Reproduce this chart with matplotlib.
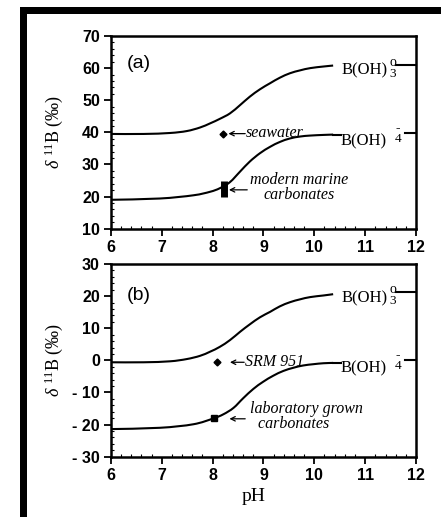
import matplotlib
matplotlib.use('Agg')
import matplotlib.pyplot as plt
from matplotlib.patches import Rectangle, PathPatch
from matplotlib.path import Path
from matplotlib.ticker import MultipleLocator

# ---------------- data ----------------
ph_upper = [6.0, 6.64, 7.16, 7.49, 7.75, 7.95, 8.14, 8.34, 8.54, 8.73, 8.93,
            9.13, 9.32, 9.52, 9.72, 9.92, 10.18, 10.37]
a_boh3 = [39.5, 39.5, 39.8, 40.4, 41.5, 42.8, 44.2, 45.9, 48.5, 51.1, 53.4,
          55.3, 57.0, 58.4, 59.3, 60.0, 60.5, 60.8]
ph_lower_a = [6.0, 6.96, 7.62, 7.95, 8.14, 8.34, 8.54, 8.73, 8.93, 9.13,
              9.32, 9.52, 9.72, 9.92, 10.18, 10.37]
a_boh4 = [19.0, 19.4, 20.4, 21.5, 22.6, 24.5, 27.8, 30.9, 33.5, 35.5,
          37.0, 38.1, 38.7, 39.0, 39.2, 39.3]
b_boh3 = [-0.6, -0.6, -0.3, 0.4, 1.4, 2.7, 4.2, 6.3, 8.9, 11.2, 13.4,
          15.1, 16.8, 18.1, 19.0, 19.7, 20.2, 20.6]
ph_lower_b = [6.0, 6.96, 7.62, 8.01, 8.21, 8.41, 8.60, 8.80, 8.99, 9.19,
              9.39, 9.59, 9.78, 9.98, 10.18, 10.37]
b_boh4 = [-21.4, -21.0, -19.9, -18.1, -16.8, -14.8, -11.8, -8.9, -6.7, -4.8,
          -3.3, -2.3, -1.6, -1.2, -0.9, -0.8]

seawater = (8.21, 39.6)
carbonate_bar = (8.22, 19.9, 24.9)      # pH, low, high
srm951 = (8.09, -0.4)
lab_carbonate = (8.02, -18.1)

x_ticks = [6, 7, 8, 9, 10, 11, 12]
x_ticklabels = ['6', '7', '8', '9', '10', '11', '12']
ya_ticks = [10, 20, 30, 40, 50, 60, 70]
ya_ticklabels = ['10', '20', '30', '40', '50', '60', '70']
yb_ticks = [-30, -20, -10, 0, 10, 20, 30]
yb_ticklabels = ['- 30', '- 20', '- 10', '0', '10', '20', '30']

# ---------------- figure ----------------
W, H = 441, 517
fig = plt.figure(figsize=(W / 100, H / 100), dpi=100)
fig.patch.set_facecolor('white')

# scanned black frame (left and top)
fig.add_artist(Rectangle((20 / W, 0), 6.5 / W, 1 - 7 / H, transform=fig.transFigure,
                         facecolor='black', edgecolor='none'))
fig.add_artist(Rectangle((20 / W, 1 - 13.5 / H), 1 - 20 / W, 6.5 / H,
                         transform=fig.transFigure, facecolor='black', edgecolor='none'))

SERIF = ['Liberation Serif', 'DejaVu Serif']
SANS = ['Liberation Sans', 'DejaVu Sans']
plt.rcParams['mathtext.fontset'] = 'custom'
plt.rcParams['mathtext.rm'] = 'Liberation Serif'
plt.rcParams['mathtext.it'] = 'Liberation Serif:italic'

ax_l, ax_w = 111 / W, 305 / W
ax_h = 192.7 / H
ax_a = fig.add_axes([ax_l, 1 - 228.7 / H, ax_w, ax_h])
ax_b = fig.add_axes([ax_l, 1 - 456.7 / H, ax_w, ax_h])


def style_axes(ax, yticks, yticklabels, ylim):
    ax.set_xlim(6, 12)
    ax.set_ylim(*ylim)
    ax.set_xticks(x_ticks)
    ax.set_xticklabels(x_ticklabels)
    ax.set_yticks(yticks)
    ax.set_yticklabels(yticklabels)
    ax.xaxis.set_minor_locator(MultipleLocator(0.2))
    ax.yaxis.set_minor_locator(MultipleLocator(2))
    ax.tick_params(which='major', direction='out', length=5, width=1.3,
                   top=False, right=False, pad=3)
    ax.tick_params(which='minor', direction='in', length=2.5, width=0.8,
                   top=False, right=False)
    for lab in ax.get_xticklabels() + ax.get_yticklabels():
        lab.set_family(SANS)
        lab.set_fontweight('bold')
        lab.set_fontsize(11.5)
    for sp in ax.spines.values():
        sp.set_linewidth(1.8)
    ax.set_ylabel(r'$\delta$ $^{11}$B (‰)', family=SERIF, fontsize=13)
    ax.yaxis.set_label_coords(-0.15, 0.5)


style_axes(ax_a, ya_ticks, ya_ticklabels, (10, 70))
style_axes(ax_b, yb_ticks, yb_ticklabels, (-30, 30))

CURVE_LW = 1.5


def smooth_curve(ax, xs, ys):
    """Draw the read points joined by a Catmull-Rom spline (as Bezier path)."""
    verts = [(xs[0], ys[0])]
    codes = [Path.MOVETO]
    n = len(xs)
    for i in range(n - 1):
        x0, y0 = (xs[i - 1], ys[i - 1]) if i > 0 else (xs[i], ys[i])
        x1, y1 = xs[i], ys[i]
        x2, y2 = xs[i + 1], ys[i + 1]
        x3, y3 = (xs[i + 2], ys[i + 2]) if i + 2 < n else (xs[i + 1], ys[i + 1])
        c1 = (x1 + (x2 - x0) / 6, y1 + (y2 - y0) / 6)
        c2 = (x2 - (x3 - x1) / 6, y2 - (y3 - y1) / 6)
        verts += [c1, c2, (x2, y2)]
        codes += [Path.CURVE4] * 3
    ax.add_patch(PathPatch(Path(verts, codes), facecolor='none', edgecolor='black',
                           lw=CURVE_LW, capstyle='butt'))


def species_labels(ax, off, low_end):
    # upper: B(OH)3 o
    ax.text(10.54, 57.9 + off, 'B(OH)', family=SERIF, fontsize=12, va='baseline', ha='left')
    ax.text(11.54, 58.2 + off, '3', family=SERIF, fontsize=9.5, va='center', ha='center')
    ax.text(11.54, 61.8 + off, 'o', family=SERIF, fontsize=10, va='center', ha='center')
    ax.plot([11.61, 12.0], [61.0 + off, 61.0 + off], color='black', lw=CURVE_LW,
            clip_on=False)
    # lower: B(OH) 4 -
    ax.plot([10.37, 10.53], [low_end, low_end], color='black', lw=CURVE_LW)
    ax.text(10.52, 36.0 + off, 'B(OH)', family=SERIF, fontsize=12, va='baseline', ha='left')
    ax.text(11.65, 37.8 + off, '4', family=SERIF, fontsize=9.5, va='center', ha='center')
    ax.text(11.65, 41.4 + off, '-', family=SERIF, fontsize=9.5, va='center', ha='center',
            fontweight='bold')
    ax.plot([11.78, 12.0], [39.7 + off, 39.7 + off], color='black', lw=CURVE_LW,
            clip_on=False)


ARROW = dict(arrowstyle='->', color='black', lw=0.9,
             mutation_scale=8, shrinkA=0, shrinkB=0)
ITAL = dict(family=SERIF, style='italic', fontsize=11.5)

# ---------- panel (a) ----------
smooth_curve(ax_a, ph_upper, a_boh3)
smooth_curve(ax_a, ph_lower_a, a_boh4)
ax_a.text(6.31, 61.5, '(a)', family=SANS, fontsize=14, va='center', ha='left')
species_labels(ax_a, 0.0, a_boh4[-1])

ax_a.plot([seawater[0]], [seawater[1]], marker='D', color='black', ms=3.5, ls='none')
ax_a.annotate('', xy=(8.31, 39.6), xytext=(8.64, 39.6), arrowprops=ARROW)
ax_a.text(8.66, 38.6, 'seawater', va='baseline', ha='left', **ITAL)

ax_a.plot([carbonate_bar[0], carbonate_bar[0]], [carbonate_bar[1], carbonate_bar[2]],
          color='black', lw=5, solid_capstyle='butt')
ax_a.annotate('', xy=(8.32, 22.1), xytext=(8.68, 22.1), arrowprops=ARROW)
ax_a.text(9.71, 19.2, 'modern marine\ncarbonates', va='baseline', ha='center',
          multialignment='center', linespacing=0.9, **ITAL)

# ---------- panel (b) ----------
smooth_curve(ax_b, ph_upper, b_boh3)
smooth_curve(ax_b, ph_lower_b, b_boh4)
ax_b.text(6.31, 20.3, '(b)', family=SANS, fontsize=14, va='center', ha='left')
species_labels(ax_b, -39.7, b_boh4[-1])

ax_b.plot([srm951[0]], [srm951[1]], marker='D', color='black', ms=3.5, ls='none')
ax_b.annotate('', xy=(8.34, -0.6), xytext=(8.62, -0.6), arrowprops=ARROW)
ax_b.text(8.64, -1.8, 'SRM 951', va='baseline', ha='left', **ITAL)

ax_b.plot([lab_carbonate[0]], [lab_carbonate[1]], marker='s', color='black', ms=4,
          ls='none')
ax_b.annotate('', xy=(8.33, -18.2), xytext=(8.64, -18.2), arrowprops=ARROW)
ax_b.text(8.73, -21.0, 'laboratory grown\n  carbonates', va='baseline', ha='left',
          multialignment='left', linespacing=0.9, **ITAL)

fig.text(254 / W, 1 - 496.7 / H, 'pH', family=SERIF, fontsize=14, ha='center',
         va='center')

fig.savefig('out.png', dpi=100, facecolor='white')
